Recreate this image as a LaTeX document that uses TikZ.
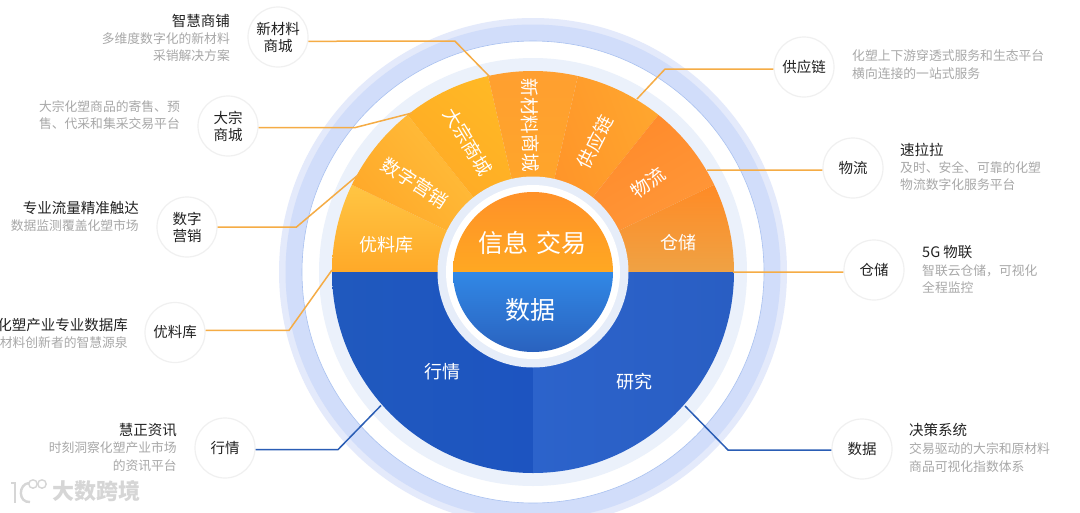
\documentclass[tikz,border=0pt]{standalone}
\usepackage{fontspec}
\setmainfont{Noto Sans CJK SC}
\usepackage{tikz}
\definecolor{ringpale}{HTML}{E4EAFB}
\definecolor{ringblue}{HTML}{D1DDFA}
\definecolor{ringedge}{HTML}{A9C1F0}
\definecolor{ringfan}{HTML}{EBF1FB}
\definecolor{ringhub}{HTML}{E6EDF9}
\definecolor{linkorange}{HTML}{F5AC45}
\definecolor{linkblue}{HTML}{2A5DB5}
\definecolor{titletext}{HTML}{222222}
\definecolor{desctext}{HTML}{A8A8A8}
\definecolor{marktext}{HTML}{D6D6D6}
\tikzset{
  bubble/.style={circle,draw=black!6,line width=1.2pt,fill=white,minimum size=60pt,inner sep=0pt,
    align=center,font=\fontsize{14.5}{17}\selectfont,text=titletext},
  itemtitle/.style={font=\fontsize{14.5}{17}\selectfont,text=titletext,inner sep=0pt},
  itemdesc/.style={font=\fontsize{12.8}{17.5}\selectfont,text=desctext,inner sep=0pt},
  fanlabel/.style={font=\fontsize{18}{20}\selectfont,text=white,inner sep=0pt},
  tiltlabel/.style={font=\fontsize{18.6}{20}\selectfont,text=white,inner sep=0pt},
  hublabel/.style={font=\fontsize{25}{28}\selectfont,text=white,inner sep=0pt},
  orangelink/.style={draw=linkorange,line width=1.5pt},
  bluelink/.style={draw=linkblue,line width=1.5pt},
  markstyle/.style={font=\fontsize{22}{24}\bfseries\selectfont,text=marktext,inner sep=0pt}
}

\begin{document}
\begin{tikzpicture}[x=1pt,y=-1pt]
\useasboundingbox (0,0) rectangle (1080,512);
\clip (0,0) rectangle (1080,512);
\fill[white] (0,0) rectangle (1080,512);

\coordinate (center) at (533,272);
\fill[ringpale] (center) circle (254);
\fill[ringblue] (center) circle (247.5);
\draw[ringedge,fill=white,line width=0.6pt] (center) circle (231);
\fill[ringfan] (center) circle (214);

% upper half of the fan
\definecolor{fa}{HTML}{FFC644}\definecolor{fb}{HTML}{FFA928}
\definecolor{fc}{HTML}{FFA526}\definecolor{fd}{HTML}{FFC440}
\definecolor{fe}{HTML}{FFA426}\definecolor{ff}{HTML}{FFB925}
\definecolor{fg}{HTML}{FF9F30}\definecolor{fh}{HTML}{FFAA26}
\definecolor{fi}{HTML}{FF9028}\definecolor{fj}{HTML}{FFA62E}
\definecolor{fk}{HTML}{FF8828}\definecolor{fl}{HTML}{FF9A3C}
\definecolor{fm}{HTML}{FF8A25}\definecolor{fn}{HTML}{EFA244}
\begin{scope}[shift={(533,272)}]
\clip (0,0) circle (201);
\shade[top color=fa,bottom color=fb] (0,0) -- (-180:207) -- (-154.3:207) -- cycle;
\shade[top color=fd,bottom color=fc,shading angle=-50] (0,0) -- (-154.3:207) -- (-128.6:207) -- cycle;
\shade[top color=ff,bottom color=fe,shading angle=-40] (0,0) -- (-128.6:207) -- (-102.9:207) -- cycle;
\shade[top color=fg,bottom color=fh] (0,0) -- (-102.9:207) -- (-77.1:207) -- cycle;
\shade[top color=fj,bottom color=fi,shading angle=-70] (0,0) -- (-77.1:207) -- (-51.4:207) -- cycle;
\shade[top color=fk,bottom color=fl,shading angle=30] (0,0) -- (-51.4:207) -- (-25.7:207) -- cycle;
\shade[top color=fm,bottom color=fn] (0,0) -- (-25.7:207) -- (0:207) -- cycle;
% lower half of the fan
\definecolor{fo}{HTML}{2059BE}\definecolor{fp}{HTML}{1D54C0}
\definecolor{fq}{HTML}{2C63CB}\definecolor{fr}{HTML}{295EC3}
\shade[left color=fo,right color=fp] (-201,0) rectangle (0,201);
\shade[left color=fq,right color=fr] (0,0) rectangle (201,201);
\end{scope}

% hub
\fill[ringhub] (center) circle (95.5);
\fill[white] (center) circle (87);
\definecolor{ha}{HTML}{FF9128}\definecolor{hb}{HTML}{FFA822}
\definecolor{hc}{HTML}{3188E6}\definecolor{hd}{HTML}{2A62BE}
\begin{scope}[shift={(533,272)}]
\clip (0,0) circle (80);
\shade[top color=ha,bottom color=hb] (-80,-80) rectangle (80,0);
\shade[top color=hc,bottom color=hd] (-80,0) rectangle (80,80);
\end{scope}

% fan labels
\node[fanlabel] (lbylk) at (386,245) {优料库};
\node[tiltlabel,rotate=-33] (lbszyx) at (415,183) {数字营销};
\node[tiltlabel,rotate=-59] (lbdzsc) at (468,142) {大宗商城};
\node[tiltlabel,rotate=-89] (lbxcl) at (530,125) {新材料商城};
\node[tiltlabel,rotate=63] (lbgyl) at (595,142) {供应链};
\node[tiltlabel,rotate=37] (lbwl) at (648,183) {物流};
\node[fanlabel] (lbcc) at (678,243) {仓储};
\node[fanlabel] (lbhq) at (442,372) {行情};
\node[fanlabel] (lbyj) at (634,382) {研究};
\node[hublabel] (hubup) at (532,243) {信息\hspace{8pt}交易};
\node[hublabel] (hubdown) at (530,310) {数据};

% bubbles
\node[bubble] (xcl) at (278,37) {新材料\\商城};
\node[bubble] (dzsc) at (228,126) {大宗\\商城};
\node[bubble] (szyx) at (187,227) {数字\\营销};
\node[bubble] (ylk) at (175,332.5) {优料库};
\node[bubble] (hq) at (225,448) {行情};
\node[bubble] (gyl) at (804,67) {供应链};
\node[bubble] (wl) at (853,168) {物流};
\node[bubble] (cc) at (874,270) {仓储};
\node[bubble] (sj) at (862,449) {数据};

% connectors
\coordinate (xclb) at (455,41.2);
\coordinate (xcle) at (490,77);
\coordinate (dzscb) at (355,127.6);
\coordinate (dzsce) at (412,113);
\coordinate (szyxb) at (296.5,227);
\coordinate (szyxe) at (358,175);
\coordinate (ylkb) at (289,330.4);
\coordinate (ylke) at (332,270);
\coordinate (hqb) at (338,449.6);
\coordinate (hqe) at (381,405.5);
\coordinate (gylb) at (665,69.1);
\coordinate (gyle) at (637,99);
\coordinate (wle) at (707,170.1);
\coordinate (cce) at (733,272.1);
\coordinate (sjb) at (728,450);
\coordinate (sje) at (685,406);
\draw[orangelink] (xcl.-8) -- (xclb) -- (xcle);
\draw[orangelink] (dzsc.-3) -- (dzscb) -- (dzsce);
\draw[orangelink] (szyx.east) -- (szyxb) -- (szyxe);
\draw[orangelink] (ylk.4) -- (ylkb) -- (ylke);
\draw[bluelink] (hq.-3) -- (hqb) -- (hqe);
\draw[orangelink] (gyl.184) -- (gylb) -- (gyle);
\draw[orangelink] (wl.184) -- (wle);
\draw[orangelink] (cc.184) -- (cce);
\draw[bluelink] (sj.182) -- (sjb) -- (sje);

% texts
\node[itemtitle,anchor=east] (xcltitle) at (230,21) {智慧商铺};
\node[itemdesc,anchor=east,align=right] (xcldesc) at (230,47) {多维度数字化的新材料\\采销解决方案};
\node[itemdesc,anchor=east,align=right] (dzscdesc) at (180,115) {大宗化塑商品的寄售、预\\售、代采和集采交易平台};
\node[itemtitle,anchor=east] (szyxtitle) at (139,208) {专业流量精准触达};
\node[itemdesc,anchor=east] (szyxdesc) at (139,226) {数据监测覆盖化塑市场};
\node[itemtitle,anchor=east] (ylktitle) at (128,325) {化塑产业专业数据库};
\node[itemdesc,anchor=east] (ylkdesc) at (128,343) {材料创新者的智慧源泉};
\node[itemtitle,anchor=east] (hqtitle) at (177,430) {慧正资讯};
\node[itemdesc,anchor=east,align=right] (hqdesc) at (177,456.5) {时刻洞察化塑产业市场\\的资讯平台};
\node[itemdesc,anchor=west,align=left] (gyldesc) at (852,64.5) {化塑上下游穿透式服务和生态平台\\横向连接的一站式服务};
\node[itemtitle,anchor=west] (wltitle) at (900,149.5) {速拉拉};
\node[itemdesc,anchor=west,align=left] (wldesc) at (900,176) {及时、安全、可靠的化塑\\物流数字化服务平台};
\node[itemtitle,anchor=west] (cctitle) at (922,252) {5G 物联};
\node[itemdesc,anchor=west,align=left] (ccdesc) at (922,279) {智联云仓储，可视化\\全程监控};
\node[itemtitle,anchor=west] (sjtitle) at (909,430) {决策系统};
\node[itemdesc,anchor=west,align=left] (sjdesc) at (909,457.5) {交易驱动的大宗和原材料\\商品可视化指数体系};

% watermark
\node[markstyle,anchor=west] (marktxt) at (52,491.5) {大数跨境};
\draw[marktext,line width=2.4pt] (11,483) -- (15,483) -- (15,503);
\draw[marktext,line width=2.4pt] (29,483) .. controls (18,484) and (18,503) .. (30,502);
\draw[marktext,line width=1.4pt] (33,484) circle (4.2);
\draw[marktext,line width=1.4pt] (42,484) circle (4.2);
\end{tikzpicture}
\end{document}
